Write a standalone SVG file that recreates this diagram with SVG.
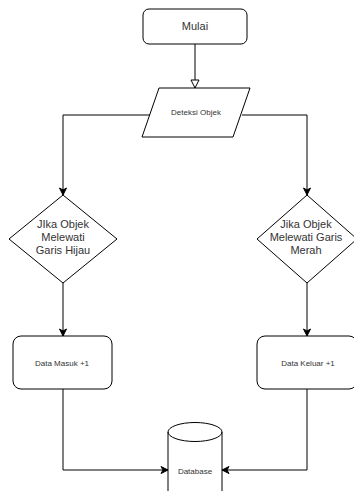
<svg xmlns="http://www.w3.org/2000/svg" width="354" height="491" viewBox="0 0 354 491">
<style>
.s{fill:#fff;stroke:#000;stroke-width:1}
.c{fill:none;stroke:#000;stroke-width:1}
.t{font-family:"Liberation Sans",Arial,sans-serif;fill:#333;text-anchor:middle}
.b{font-size:11px}
.m{font-size:8px}
</style>
<defs>
<marker id="open" markerWidth="10" markerHeight="10" refX="9" refY="5" orient="auto" markerUnits="userSpaceOnUse">
<path d="M1,1 L9,5 L1,9 Z" fill="#fff" stroke="#000" stroke-width="1"/>
</marker>
<marker id="fill" markerWidth="10" markerHeight="10" refX="8" refY="5" orient="auto" markerUnits="userSpaceOnUse">
<path d="M1,1.5 L8,5 L1,8.5 L3,5 Z" fill="#000" stroke="#000" stroke-width="1"/>
</marker>
</defs>
<g id="connectors">
<path class="c" d="M195,44 V88" marker-end="url(#open)"/>
<path class="c" d="M150,115 H63 V195" marker-end="url(#fill)"/>
<path class="c" d="M242,115 H307 V195" marker-end="url(#fill)"/>
<path class="c" d="M63,283 V336" marker-end="url(#fill)"/>
<path class="c" d="M307,283 V336" marker-end="url(#fill)"/>
<path class="c" d="M63,389 V470 H168" marker-end="url(#fill)"/>
<path class="c" d="M307,389 V470 H222" marker-end="url(#fill)"/>
</g>
<g id="mulai">
<rect class="s" x="143" y="9" width="104" height="35" rx="6"/>
<text class="t b" x="195" y="30">Mulai</text>
</g>
<g id="deteksi">
<polygon class="s" points="159,88 250,88 233,137 142,137"/>
<text class="t m" x="196" y="115">Deteksi Objek</text>
</g>
<g id="hijau">
<polygon class="s" points="63,195 117,239 63,283 9,239"/>
<text class="t b" x="63" y="228">JIka Objek</text>
<text class="t b" x="63" y="241">Melewati</text>
<text class="t b" x="63" y="254">Garis Hijau</text>
</g>
<g id="merah">
<polygon class="s" points="307,195 357,239 307,283 257,239"/>
<text class="t b" x="306" y="228">Jika Objek</text>
<text class="t b" x="306" y="241">Melewati Garis</text>
<text class="t b" x="306" y="254">Merah</text>
</g>
<g id="masuk">
<rect class="s" x="13" y="336" width="99" height="53" rx="8"/>
<text class="t m" x="62" y="366">Data Masuk +1</text>
</g>
<g id="keluar">
<rect class="s" x="257" y="336" width="100" height="53" rx="8"/>
<text class="t m" x="308" y="366">Data Keluar +1</text>
</g>
<g id="database">
<path class="s" d="M168,432 A27,9.5 0 0 1 222,432 V500 H168 Z"/>
<path class="c" d="M168,432 A27,9.5 0 0 0 222,432"/>
<text class="t m" x="195" y="474">Database</text>
</g>
</svg>
